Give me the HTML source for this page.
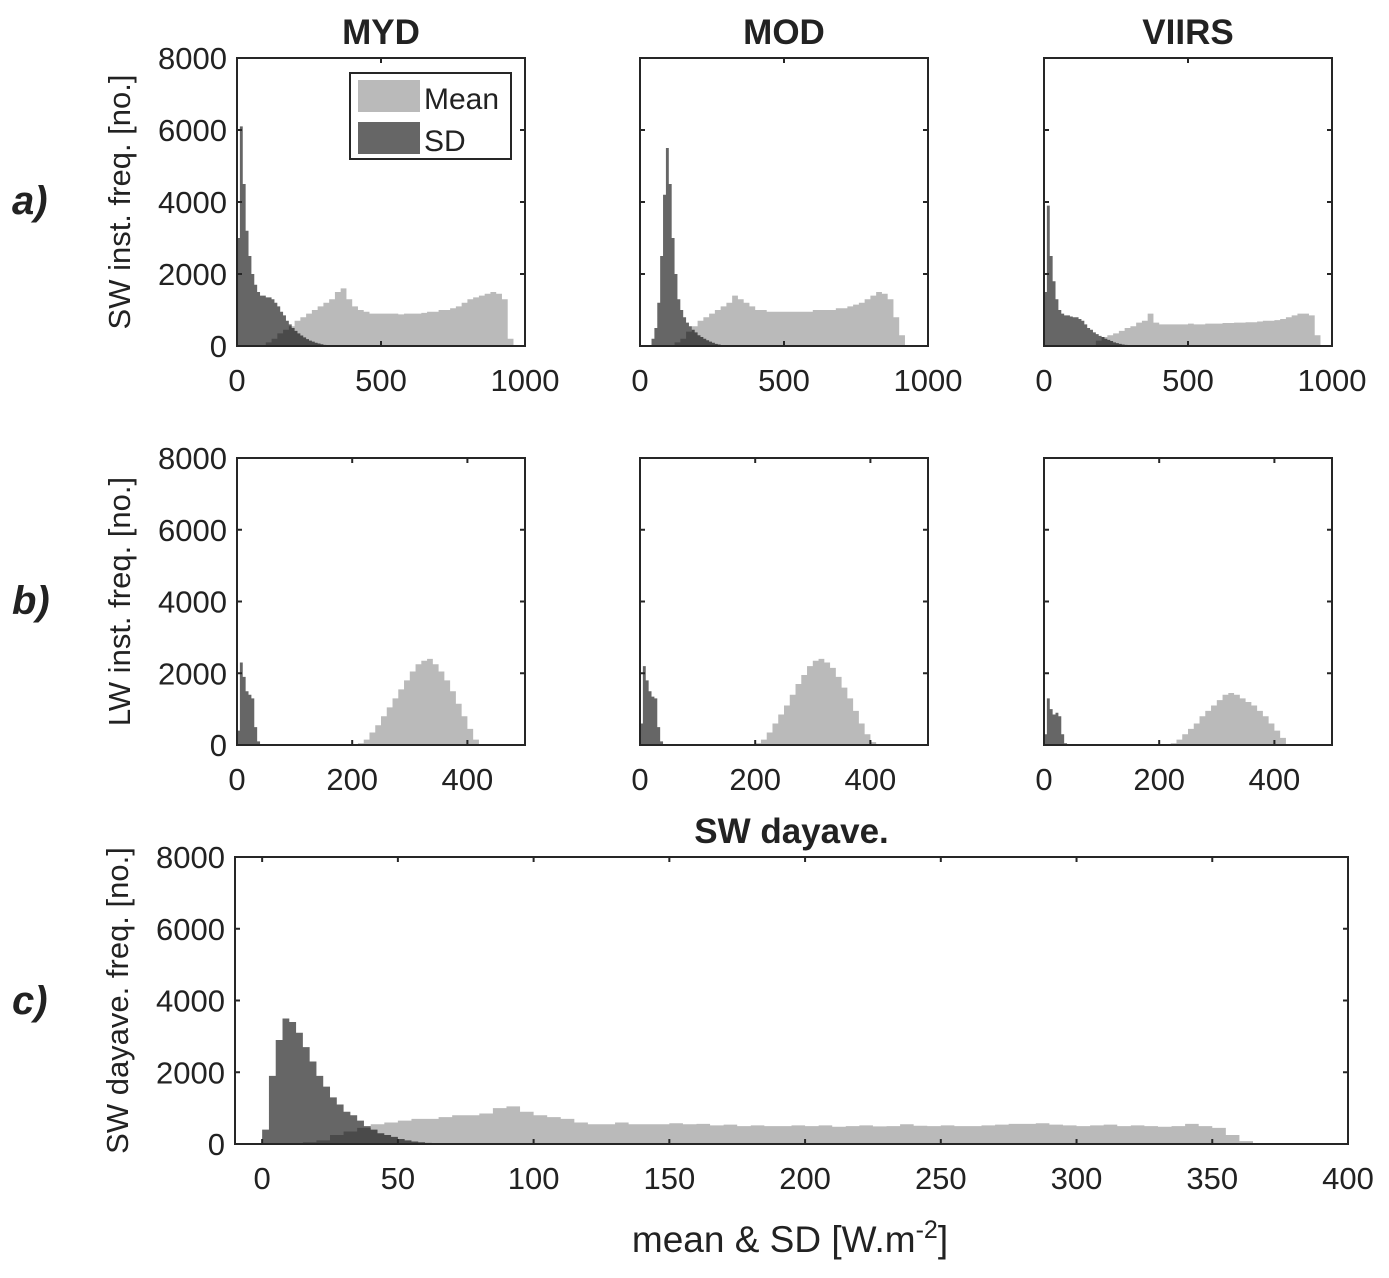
<!DOCTYPE html>
<html><head><meta charset="utf-8"><style>
body{margin:0;background:#fff}
svg text{font-family:"Liberation Sans",Arial,sans-serif;fill:#222}
</style></head><body>
<svg id="fig" width="1389" height="1273" viewBox="0 0 1389 1273"></svg>
<script>
// ---- data (bin start, bin width, counts) ----
const myd_sw_sd_start=0, myd_sw_sd_w=10;
const myd_sw_sd=[3000,6100,4500,3200,2500,2000,1700,1500,1400,1400,1350,1350,1300,1200,1100,950,850,700,600,500,420,350,290,240,190,150,120,90,70,50,30,20,10];
const myd_sw_mean_start=100, myd_sw_mean_w=20;
const myd_sw_mean=[100,200,350,450,550,700,800,900,1000,1100,1200,1300,1500,1600,1300,1100,1000,950,900,900,900,900,900,880,900,900,900,920,950,950,1000,1000,1050,1100,1200,1300,1350,1400,1450,1500,1450,1300,200];
const mod_sw_sd_start=40, mod_sw_sd_w=10;
const mod_sw_sd=[200,500,1200,2500,4200,5500,4500,3000,2000,1300,1000,800,650,550,450,380,300,250,200,160,120,90,60,40,20];
const mod_sw_mean_start=120, mod_sw_mean_w=20;
const mod_sw_mean=[100,200,400,550,700,800,900,1000,1100,1200,1400,1300,1200,1100,1000,1000,950,950,950,950,950,950,950,950,1000,1000,1000,1000,1050,1050,1100,1150,1200,1300,1400,1500,1450,1300,800,300];
const vii_sw_sd_start=0, vii_sw_sd_w=10;
const vii_sw_sd=[1500,3900,2500,1800,1300,1000,900,850,850,820,800,800,750,700,600,500,450,380,330,280,250,200,170,140,100,80,60,40,30,20];
const vii_sw_mean_start=180, vii_sw_mean_w=20;
const vii_sw_mean=[150,250,300,350,420,500,550,650,700,900,650,600,600,600,600,600,620,600,600,620,620,620,640,640,650,650,660,660,680,700,700,720,750,800,850,900,900,850,300];
const myd_lw_sd_start=0, myd_lw_sd_w=5;
const myd_lw_sd=[400,2300,1900,1500,1400,1300,500,100];
const myd_lw_mean_start=210, myd_lw_mean_w=10;
const myd_lw_mean=[50,150,350,550,800,1050,1300,1550,1800,2050,2250,2350,2400,2250,2050,1800,1500,1150,800,450,150];
const mod_lw_sd_start=0, mod_lw_sd_w=5;
const mod_lw_sd=[600,2200,1800,1500,1350,1300,500,100];
const mod_lw_mean_start=200, mod_lw_mean_w=10;
const mod_lw_mean=[50,150,350,600,850,1100,1400,1700,1950,2200,2350,2400,2300,2150,1900,1600,1300,950,600,300,80];
const vii_lw_sd_start=0, vii_lw_sd_w=5;
const vii_lw_sd=[300,1300,1000,850,900,800,300,50];
const vii_lw_mean_start=220, vii_lw_mean_w=10;
const vii_lw_mean=[50,150,300,450,600,800,950,1100,1250,1400,1450,1400,1300,1200,1100,950,800,600,400,200];
const day_sd_start=0, day_sd_w=2.5;
const day_sd=[400,1900,2900,3500,3400,3100,2700,2300,1900,1600,1300,1100,900,800,650,500,400,300,250,200,140,100,70,50,30,20,10,5];
const day_mean_start=15, day_mean_w=5;
const day_mean=[50,100,250,350,450,550,600,650,700,700,750,800,800,850,1000,1050,900,800,750,700,600,550,550,600,550,550,550,580,550,560,520,540,500,520,500,500,520,500,520,480,500,520,490,500,550,510,500,520,500,500,520,540,560,560,580,540,520,500,520,540,500,520,500,480,500,560,500,450,250,80];
const yTicks=[0,2000,4000,6000,8000];
const swTicks=[0,500,1000], lwTicks=[0,200,400], dayTicks=[0,50,100,150,200,250,300,350,400];

const svg=document.getElementById('fig');
const NS='http://www.w3.org/2000/svg';
function el(t,a,p){const e=document.createElementNS(NS,t);for(const k in a)e.setAttribute(k,a[k]);(p||svg).appendChild(e);return e;}

function hist(g,xs,ys,start,w,vals,fill,op){
  let d='M'+xs(start)+','+ys(0);
  vals.forEach((v,i)=>{const x0=xs(start+i*w),x1=xs(start+(i+1)*w);d+=' L'+x0+','+ys(v)+' L'+x1+','+ys(v);});
  d+=' L'+xs(start+vals.length*w)+','+ys(0)+' Z';
  return el('path',{d:d,fill:fill,'fill-opacity':op},g);
}
function panel(name,L,T,R,B,xmin,xmax,xticks,meanS,sdS,showY,ylab,title){
  const g=el('g',{});
  
  
  const xs=v=>L+(v-xmin)/(xmax-xmin)*(R-L);
  const ys=v=>B-v/8000*(B-T);
  const pm=hist(g,xs,ys,meanS[0],meanS[1],meanS[2],'#bababa',1);
  
  
  const ps=hist(g,xs,ys,sdS[0],sdS[1],sdS[2],'#000',0.6);
  
  
  el('rect',{x:L,y:T,width:R-L,height:B-T,fill:'none',stroke:'#262626','stroke-width':2},g);
  xticks.forEach(t=>{const x=xs(t);
    el('line',{x1:x,x2:x,y1:B,y2:B-5,stroke:'#262626','stroke-width':2},g);
    el('line',{x1:x,x2:x,y1:T,y2:T+5,stroke:'#262626','stroke-width':2},g);
    const tx=el('text',{x:x,y:B+45,'font-size':31,'text-anchor':'middle'},g);tx.textContent=t;
    
    });
  yTicks.forEach(t=>{const y=ys(t);
    el('line',{x1:L,x2:L+5,y1:y,y2:y,stroke:'#262626','stroke-width':2},g);
    el('line',{x1:R,x2:R-5,y1:y,y2:y,stroke:'#262626','stroke-width':2},g);
    if(showY){const tx=el('text',{x:L-10,y:y+11,'font-size':31,'text-anchor':'end'},g);tx.textContent=t;
      
      }});
  if(ylab){const tx=el('text',{x:0,y:0,'font-size':31,'text-anchor':'middle',transform:`translate(${L-107},${(T+B)/2}) rotate(-90)`},g);tx.textContent=ylab;
    
    }
  if(title){const tx=el('text',{x:(L+R)/2,y:T-14,'font-size':35,'font-weight':'bold','text-anchor':'middle'},g);tx.textContent=title;
    
    }
  return g;
}
const cols=[[237,525],[640,928],[1044,1332]];
const swM=[[myd_sw_mean_start,myd_sw_mean_w,myd_sw_mean],[mod_sw_mean_start,mod_sw_mean_w,mod_sw_mean],[vii_sw_mean_start,vii_sw_mean_w,vii_sw_mean]];
const swS=[[myd_sw_sd_start,myd_sw_sd_w,myd_sw_sd],[mod_sw_sd_start,mod_sw_sd_w,mod_sw_sd],[vii_sw_sd_start,vii_sw_sd_w,vii_sw_sd]];
const lwM=[[myd_lw_mean_start,myd_lw_mean_w,myd_lw_mean],[mod_lw_mean_start,mod_lw_mean_w,mod_lw_mean],[vii_lw_mean_start,vii_lw_mean_w,vii_lw_mean]];
const lwS=[[myd_lw_sd_start,myd_lw_sd_w,myd_lw_sd],[mod_lw_sd_start,mod_lw_sd_w,mod_lw_sd],[vii_lw_sd_start,vii_lw_sd_w,vii_lw_sd]];
const titles=['MYD','MOD','VIIRS'];
for(let i=0;i<3;i++){
  panel('sw-inst-'+titles[i].toLowerCase(),cols[i][0],58,cols[i][1],346,0,1000,swTicks,swM[i],swS[i],i==0,i==0?'SW inst. freq. [no.]':null,titles[i]);
  panel('lw-inst-'+titles[i].toLowerCase(),cols[i][0],458,cols[i][1],745,0,500,lwTicks,lwM[i],lwS[i],i==0,i==0?'LW inst. freq. [no.]':null,null);
}
panel('sw-dayave',235,857,1348,1144,-10,400,dayTicks,[day_mean_start,day_mean_w,day_mean],[day_sd_start,day_sd_w,day_sd],true,'SW dayave. freq. [no.]','SW dayave.');

// legend
const lg=el('g',{});


el('rect',{x:350,y:73,width:161,height:86,fill:'#fff',stroke:'#262626','stroke-width':2},lg);
el('rect',{x:358,y:80,width:62,height:32,fill:'#bababa'},lg);
el('rect',{x:358,y:122,width:62,height:32,fill:'#666'},lg);
const l1=el('text',{x:424,y:109,'font-size':30},lg);l1.textContent='Mean';


const l2=el('text',{x:424,y:151,'font-size':30},lg);l2.textContent='SD';



// row labels
[['a)',214],['b)',614],['c)',1014]].forEach(r=>{
  const t=el('text',{x:12,y:r[1],'font-size':40,'font-weight':'bold','font-style':'italic'});
  t.textContent=r[0];
  
  
});
const xl=el('text',{x:790,y:1252,'font-size':37,'text-anchor':'middle'});
xl.innerHTML='mean &amp; SD [W.m<tspan dy="-14" font-size="25">-2</tspan><tspan dy="14">]</tspan>';


</script>
</body></html>
